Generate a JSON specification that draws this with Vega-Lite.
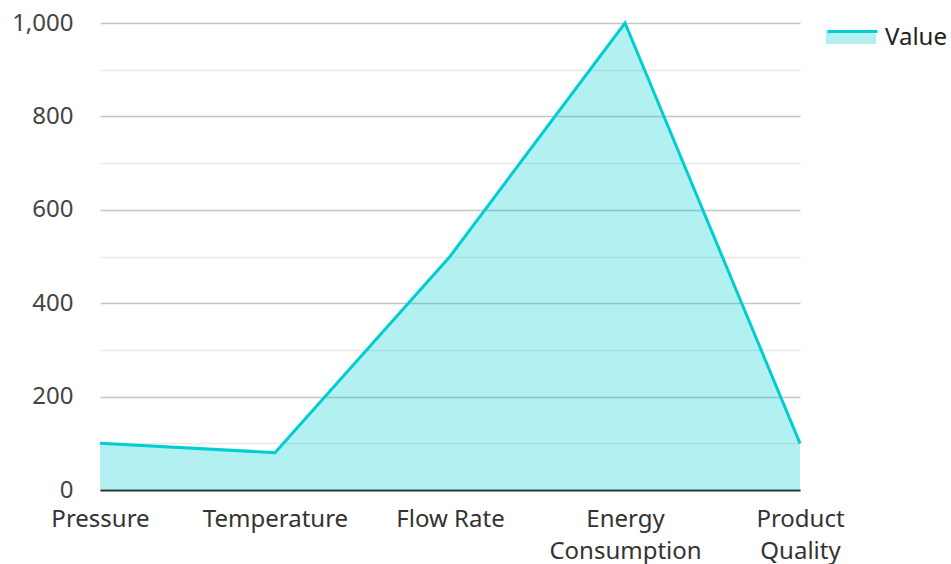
{
  "$schema": "https://vega.github.io/schema/vega-lite/v6.json",
  "autosize": {"type": "none"},
  "width": 700,
  "height": 467,
  "padding": {"left": 100, "top": 23, "right": 151, "bottom": 74},
  "background": "white",
  "config": {
    "view": {"stroke": null},
    "font": "Noto Sans"
  },
  "data": {
    "values": [
      {"category": "Pressure", "value": 100, "series": "Value"},
      {"category": "Temperature", "value": 80, "series": "Value"},
      {"category": "Flow Rate", "value": 500, "series": "Value"},
      {"category": "Energy Consumption", "value": 1000, "series": "Value"},
      {"category": "Product Quality", "value": 100, "series": "Value"}
    ]
  },
  "encoding": {
    "x": {
      "field": "category",
      "type": "ordinal",
      "sort": null,
      "scale": {"type": "point", "padding": 0},
      "axis": {
        "title": null,
        "labelAngle": 0,
        "labelFontSize": 24,
        "labelColor": "#333333",
        "labelPadding": 17,
        "labelLineHeight": 32,
        "labelExpr": "length(datum.label) > 11 ? split(datum.label, ' ') : datum.label",
        "ticks": false,
        "domain": true,
        "domainColor": "#333333",
        "domainWidth": 2,
        "grid": false
      }
    },
    "y": {
      "field": "value",
      "type": "quantitative",
      "scale": {"domain": [0, 1000], "nice": false},
      "axis": {
        "title": null,
        "values": [0, 100, 200, 300, 400, 500, 600, 700, 800, 900, 1000],
        "labelExpr": "datum.value % 200 === 0 ? datum.label : ''",
        "labelFontSize": 24,
        "labelColor": "#444444",
        "labelPadding": 27,
        "ticks": false,
        "domain": false,
        "grid": true,
        "gridWidth": 1.5,
        "gridColor": {"condition": {"test": "datum.value % 200 === 0", "value": "#c4c4c4"}, "value": "#e8e8e8"}
      }
    }
  },
  "layer": [
    {
      "mark": {"type": "area", "fillOpacity": 0.3},
      "encoding": {
        "fill": {
          "field": "series",
          "type": "nominal",
          "scale": {"range": ["#00CED1"]},
          "legend": {
            "title": null,
            "orient": "none",
            "legendX": 726,
            "legendY": -12,
            "padding": 0,
            "symbolType": "M-1,-0.24H1V0.32H-1Z",
            "symbolSize": 2500,
            "symbolOpacity": 0.3,
            "symbolStrokeWidth": 0,
            "labelFontSize": 24,
            "labelColor": "#222222",
            "labelOffset": 6,
            "labelOpacity": 0
          }
        }
      }
    },
    {
      "mark": {"type": "line", "strokeWidth": 3},
      "encoding": {
        "stroke": {
          "datum": "Value",
          "type": "nominal",
          "scale": {"range": ["#00CED1"]},
          "legend": {
            "title": null,
            "orient": "none",
            "legendX": 726,
            "legendY": -12,
            "padding": 0,
            "symbolType": "M-1,-0.24H1",
            "symbolSize": 2500,
            "symbolStrokeWidth": 3,
            "labelFontSize": 24,
            "labelColor": "#222222",
            "labelOffset": 6
          }
        }
      }
    }
  ],
  "resolve": {"scale": {"fill": "independent", "stroke": "independent"}}
}
